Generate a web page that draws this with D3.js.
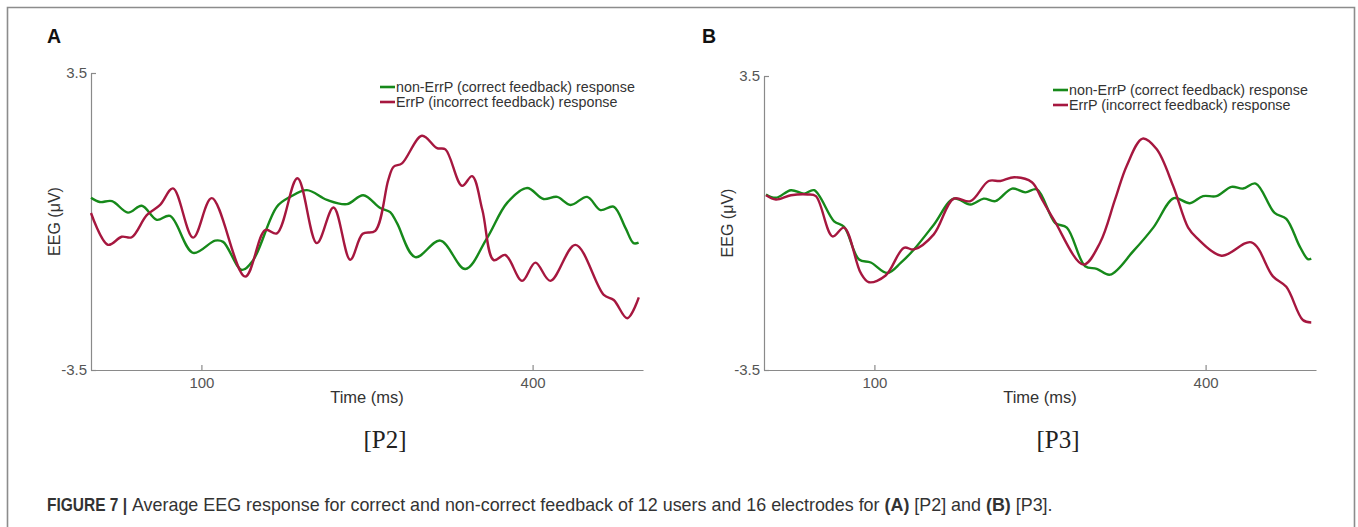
<!DOCTYPE html>
<html>
<head>
<meta charset="utf-8">
<script src="https://cdn.jsdelivr.net/npm/d3@7"></script>
<style>
  html, body { margin: 0; padding: 0; background: #fff; }
  svg { display: block; }
</style>
</head>
<body>
<svg id="fig" width="1358" height="527"></svg>
<script>
// ---- Data: grand-average EEG traces, [time (ms), amplitude (µV)] ----
const timeDomain = [0, 500];
const ampDomain = [-3.5, 3.5];
const xTicks = [100, 400];
const yTicks = [-3.5, 3.5];

const seriesNames = [
  "non-ErrP (correct feedback) response",
  "ErrP (incorrect feedback) response"
];

// Electrode group P2
const p2Correct = [
  [0, 0.56], [8, 0.46], [19, 0.48], [33.5, 0.21], [46, 0.37], [59.6, 0.04],
  [71.6, 0.13], [92.5, -0.74], [112.4, -0.45], [119.7, -0.48], [136.6, -1.14],
  [146.9, -0.91], [168.4, 0.35], [180.4, 0.58], [195.6, 0.74], [213.7, 0.51],
  [231.8, 0.41], [246.6, 0.62], [262, 0.32], [271, 0.22], [277.2, -0.04],
  [293.7, -0.84], [316.4, -0.45], [339, -1.12], [358.7, -0.39], [376.9, 0.44],
  [395, 0.79], [409.8, 0.53], [422.2, 0.58], [434.3, 0.39], [449.4, 0.58],
  [461.5, 0.27], [473.3, 0.35], [484.1, -0.15], [491.4, -0.51], [496, -0.50]
];
const p2Error = [
  [0, 0.20], [15.4, -0.55], [27.8, -0.36], [36.9, -0.37], [50.5, 0.15],
  [62.6, 0.39], [74.3, 0.78], [92.5, -0.38], [109.4, 0.55], [139.6, -1.30],
  [157.8, -0.20], [168.4, -0.28], [187, 1.02], [204.6, -0.51], [219.7, 0.33],
  [234.8, -0.90], [246.1, -0.29], [257.5, -0.22], [269.3, 0.98], [274.1, 1.29],
  [281.7, 1.37], [299.8, 2.02], [313.4, 1.73], [321, 1.70], [336.1, 0.84],
  [345.2, 1.07], [354.5, 0.27], [364.7, -0.91], [375.3, -0.79], [390.5, -1.40],
  [402.5, -0.97], [416.1, -1.40], [438.8, -0.55], [464.5, -1.73],
  [473.5, -1.85], [485.7, -2.28], [496.2, -1.79]
];

// Electrode group P3
const p3Correct = [
  [1.8, 0.68], [10.8, 0.60], [24.4, 0.78], [36.4, 0.70], [45.4, 0.78],
  [63.5, 0.04], [72.5, -0.09], [86.1, -0.87], [96.7, -0.94], [111.7, -1.19],
  [123.8, -0.95], [135.8, -0.63], [153.8, -0.04], [171.9, 0.58], [187, 0.44],
  [199, 0.58], [209.6, 0.52], [224.7, 0.82], [236.7, 0.73], [247.2, 0.80],
  [263.8, 0.00], [274.3, -0.11], [290.9, -1.03], [301.4, -1.09], [313.5, -1.23],
  [334.5, -0.67], [352.6, -0.11], [371.3, 0.59], [385.7, 0.47], [397.7, 0.64],
  [409.8, 0.64], [423.4, 0.86], [433.9, 0.82], [445.4, 0.94], [462.5, 0.24],
  [473.1, 0.10], [485.1, -0.55], [492.6, -0.86], [495.7, -0.85]
];
const p3Error = [
  [1.8, 0.66], [10.8, 0.56], [24.4, 0.66], [39.5, 0.68], [47, 0.64],
  [62.1, -0.32], [72.5, -0.11], [87.6, -1.19], [95.1, -1.41], [110.2, -1.25],
  [126.7, -0.59], [135.8, -0.63], [153.8, -0.27], [171.9, 0.58], [187, 0.52],
  [203.5, 1.00], [214.1, 1.00], [226.7, 1.09], [242.7, 0.97], [251.8, 0.56],
  [262.9, 0.06], [289.3, -0.99], [304.4, -0.47], [318, 0.56], [328.5, 1.36],
  [343, 2.01], [355.6, 1.76], [370.6, 0.88], [384.2, -0.11], [391.8, -0.35],
  [414.4, -0.78], [441.5, -0.46], [461, -1.27], [473.1, -1.52], [488.1, -2.31],
  [495.7, -2.37]
];

const panelLetters = ["A", "B"];
const panelTitles = ["[P2]", "[P3]"];

// ---- Styling / layout ----
const colors = ["#16891a", "#a6173f"];
const axisColor = "#8a8a8a";
const sansFont = "'Liberation Sans', Arial, Helvetica, sans-serif";

const svg = d3.select("#fig");

// Outer frame of the figure
svg.append("path")
  .attr("d", "M7.5,540 V7.5 H1354.5 V540")
  .attr("fill", "none")
  .attr("stroke", "#8c8c8c")
  .attr("stroke-width", 1.6);

const panels = [
  { letter: panelLetters[0], title: panelTitles[0], series: [p2Correct, p2Error],
    x0: 91, x1: 643, yTop: 73, yBot: 370, letterX: 47, legendX: 380, legendY: 87 },
  { letter: panelLetters[1], title: panelTitles[1], series: [p3Correct, p3Error],
    x0: 764, x1: 1316, yTop: 76, yBot: 370, letterX: 702, legendX: 1053, legendY: 90 }
];

panels.forEach(p => {
  const g = svg.append("g");
  const x = d3.scaleLinear().domain(timeDomain).range([p.x0, p.x1]);
  const y = d3.scaleLinear().domain(ampDomain).range([p.yBot, p.yTop]);

  // Panel letter
  g.append("text")
    .attr("x", p.letterX).attr("y", 43)
    .attr("font-family", sansFont).attr("font-weight", "bold")
    .attr("font-size", 19.5).attr("fill", "#111")
    .text(p.letter);

  // Axes (ticks point inward)
  const xAxis = d3.axisBottom(x).tickValues(xTicks).tickSizeInner(-5)
    .tickSizeOuter(0).tickPadding(5).tickFormat(d3.format("d"));
  const yAxis = d3.axisLeft(y).tickValues(yTicks).tickSizeInner(-5)
    .tickSizeOuter(0).tickPadding(4).tickFormat(d => d.toFixed(1));

  const gx = g.append("g").attr("transform", `translate(0,${p.yBot})`).call(xAxis);
  const gy = g.append("g").attr("transform", `translate(${p.x0},0)`).call(yAxis);
  [gx, gy].forEach(a => {
    a.select(".domain").attr("stroke", axisColor).attr("stroke-width", 1.2);
    a.selectAll(".tick line").attr("stroke", axisColor).attr("stroke-width", 1.2);
    a.selectAll(".tick text").attr("fill", "#555")
      .attr("font-family", sansFont).attr("font-size", 15);
  });
  gx.selectAll(".tick text").attr("dy", "0.85em");

  // Axis titles
  g.append("text")
    .attr("x", (p.x0 + p.x1) / 2).attr("y", 403)
    .attr("text-anchor", "middle")
    .attr("font-family", sansFont).attr("font-size", 16.5).attr("fill", "#333")
    .text("Time (ms)");
  g.append("text")
    .attr("transform", `translate(${p.x0 - 31},${(p.yTop + p.yBot) / 2}) rotate(-90)`)
    .attr("text-anchor", "middle")
    .attr("font-family", sansFont).attr("font-size", 16).attr("fill", "#333")
    .text("EEG (\u03bcV)");

  // Traces
  const line = d3.line()
    .x(d => x(d[0])).y(d => y(d[1]))
    .curve(d3.curveCatmullRom.alpha(0.5));
  p.series.forEach((s, i) => {
    g.append("path")
      .datum(s)
      .attr("d", line)
      .attr("fill", "none")
      .attr("stroke", colors[i])
      .attr("stroke-width", 2.4)
      .attr("stroke-linejoin", "round");
  });

  // Legend
  seriesNames.forEach((name, i) => {
    const ly = p.legendY + i * 15;
    g.append("line")
      .attr("x1", p.legendX).attr("x2", p.legendX + 15)
      .attr("y1", ly).attr("y2", ly)
      .attr("stroke", colors[i]).attr("stroke-width", 2.6);
    g.append("text")
      .attr("x", p.legendX + 16).attr("y", ly)
      .attr("dy", "0.35em")
      .attr("font-family", sansFont).attr("font-size", 14.3).attr("fill", "#333")
      .text(name);
  });

  // Electrode title under the panel
  g.append("text")
    .attr("x", (p.x0 + p.x1) / 2 + 18).attr("y", 448)
    .attr("text-anchor", "middle")
    .attr("font-family", "'Liberation Serif', 'DejaVu Serif', serif")
    .attr("font-size", 25).attr("fill", "#222")
    .text(p.title);
});

// Caption
svg.append("text")
  .attr("x", 47).attr("y", 511)
  .attr("font-family", sansFont).attr("font-size", 17.5)
  .attr("font-weight", "bold").attr("fill", "#333")
  .attr("textLength", 80).attr("lengthAdjust", "spacingAndGlyphs")
  .text("FIGURE 7 |");
const cap = svg.append("text")
  .attr("x", 132).attr("y", 511)
  .attr("font-family", sansFont).attr("font-size", 17.9).attr("fill", "#333");
cap.append("tspan").text("Average EEG response for correct and non-correct feedback of 12 users and 16 electrodes for ");
cap.append("tspan").attr("font-weight", "bold").text("(A)");
cap.append("tspan").text(" [P2] and ");
cap.append("tspan").attr("font-weight", "bold").text("(B)");
cap.append("tspan").text(" [P3].");
</script>
</body>
</html>
